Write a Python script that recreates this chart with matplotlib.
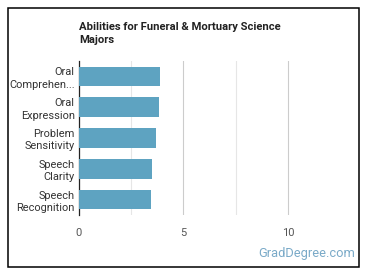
import matplotlib.pyplot as plt
from matplotlib.patches import Rectangle

plt.rcParams['font.family'] = ['Roboto', 'DejaVu Sans']

abilities = ["Oral\nComprehen...", "Oral\nExpression", "Problem\nSensitivity",
             "Speech\nClarity", "Speech\nRecognition"]
scores = [3.88, 3.81, 3.70, 3.51, 3.46]
xticks = [0, 5, 10]

W, H = 370, 278
fig = plt.figure(figsize=(W / 100, H / 100), dpi=100)
ax = fig.add_axes([79 / W, 1 - 215 / H, (338 - 79) / W, (215 - 61) / H])

ypos = list(range(len(abilities)))
ax.barh(ypos, scores, height=0.64, color='#5ea3c1', zorder=3)
ax.set_ylim(len(abilities) - 0.5, -0.5)
ax.set_xlim(0, 12.4)
ax.set_yticks(ypos)
ax.set_yticklabels(abilities, fontsize=7.9, color='#333333', linespacing=1.3)
ax.set_xticks(xticks)
ax.set_xticklabels([str(t) for t in xticks], fontsize=8, color='#555555')
ax.set_xticks([2.5, 7.5], minor=True)
ax.grid(axis='x', which='major', color='#cccccc', linewidth=0.8, zorder=0)
ax.grid(axis='x', which='minor', color='#e6e6e6', linewidth=0.8, zorder=0)
ax.tick_params(axis='both', which='both', length=0)
ax.tick_params(axis='x', pad=9)
ax.tick_params(axis='y', pad=3)
for s in ['top', 'right', 'bottom']:
    ax.spines[s].set_visible(False)
ax.spines['left'].set_color('#222222')
ax.spines['left'].set_linewidth(0.9)

fig.text(79 / W, 1 - 22 / H, "Abilities for Funeral & Mortuary Science\nMajors",
         fontsize=8.1, fontweight='bold', color='#222222', va='top', ha='left',
         linespacing=1.4)
fig.text(355 / W, 1 - 254 / H, "GradDegree.com", fontsize=9.3, color='#7aaac8',
         ha='right', va='center')

fig.patches.append(Rectangle((8 / W, 1 - 267 / H), (359 - 8) / W, (267 - 8) / H,
                             transform=fig.transFigure, fill=False,
                             edgecolor='black', linewidth=1.1))

fig.savefig("out.png", dpi=100)
plt.close(fig)
